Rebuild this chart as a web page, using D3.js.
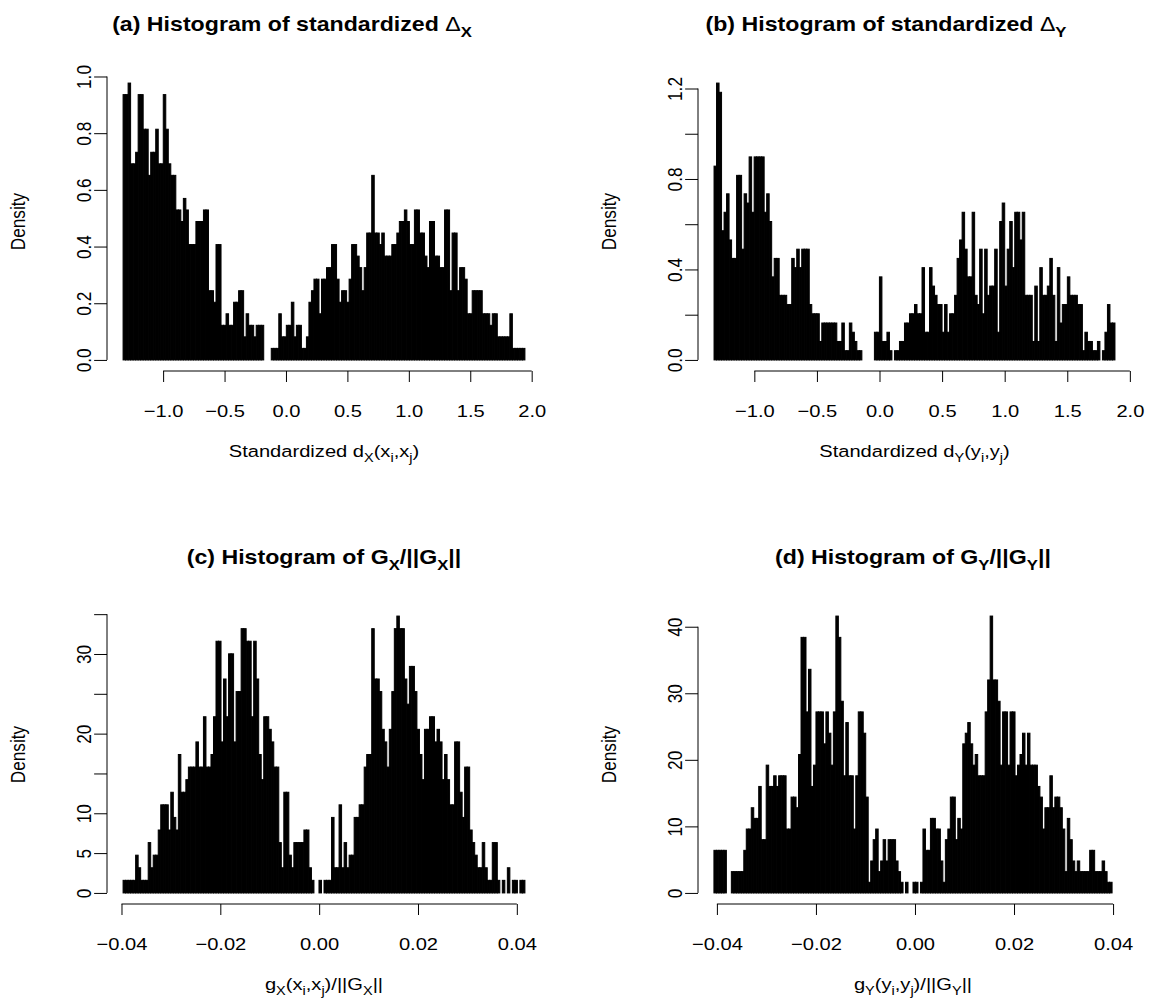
<!DOCTYPE html>
<html>
<head>
<meta charset="utf-8">
<script src="https://cdn.jsdelivr.net/npm/d3@7"></script>
<style>
  body { margin: 0; background: #fff; }
  svg text { font-family: "Liberation Sans", Arial, sans-serif; fill: #000; }
</style>
</head>
<body>
<script>
// Four R-style histograms (2 x 2). Values are bin counts,
// turned into densities with the count->density factor of each panel.

// (a) standardized Delta_X : 160 bins
const countsA = [23,23,24,17,17,18,23,23,20,20, 16,18,18,20,17,17,23,20,17,16,
  16,13,13,12,14,13,10,10,10,12, 12,12,13,13,6,6,5,10,10,3, 3,4,3,3,5,5,6,6,2,4,
  3,3,2,3,3,3,0,0,0,1, 1,1,4,2,2,3,3,5,2,3, 3,1,1,2,5,6,7,7,4,7,
  7,8,8,10,10,7,5,6,6,5, 7,10,10,9,8,6,8,11,11,16, 11,11,10,11,9,9,9,10,10,11,
  12,12,13,12,10,10,13,13,11,11, 9,8,12,12,9,9,8,8,13,13, 6,11,11,6,8,8,7,4,4,6,
  6,6,6,4,4,4,3,4,4,2, 2,2,2,2,4,1,1,1,1,1];
// (b) standardized Delta_Y
const countsB = [21,30,29,14,16,18,13,11,11,20, 20,12,18,17,22,16,22,22,22,22,
  16,18,15,9,11,11,7,7,7,6, 6,11,10,12,10,12,12,12,6,5, 5,5,2,4,4,4,4,4,4,2,
  2,4,1,1,4,3,2,1,1,0, 0,0,0,0,3,3,9,2,2,3, 1,0,1,1,2,2,4,4,5,5,
  6,5,5,10,3,3,10,8,7,6, 6,3,6,3,5,5,7,11,13,16, 12,9,9,16,7,6,12,5,12,7,
  8,8,12,3,15,17,8,12,15,10, 16,16,13,16,7,7,7,2,8,2, 10,7,7,8,11,7,2,10,4,6,
  6,9,7,7,7,6,6,1,3,2, 2,1,1,2,0,1,3,6,4,4];
// (c) G_X/||G_X||
const countsC = [1,1,1,1,1,3,2,1,1,1, 4,2,3,3,5,7,7,7,5,8, 6,5,11,8,8,9,10,10,10,12,
  10,10,14,10,10,11,14,20,20,12, 17,14,19,19,12,16,16,21,21,20, 20,14,20,17,11,9,14,14,13,12,
  10,10,4,2,8,8,3,2,4,4, 4,4,5,5,2,1,0,0,1,0, 1,1,1,6,2,2,7,2,4,2,
  3,3,6,6,7,7,10,11,11,21, 17,17,16,13,12,10,13,16,21,22, 21,21,17,15,18,18,16,13,11,9,
  13,13,14,14,12,13,12,9,11,9, 7,7,12,12,8,6,10,10,5,4, 3,2,2,4,2,1,1,4,4,1,
  0,1,0,2,0,1,1,0,1,1];
// (d) G_Y/||G_Y||
const countsD = [4,4,4,4,4,0,0,2,2,2, 2,2,4,6,6,8,7,7,10,5, 5,12,10,10,11,10,11,11,11,6,
  6,9,9,8,13,24,24,17,21,10, 12,17,17,17,14,17,15,12,17,26, 24,18,11,16,11,11,6,11,17,17,
  15,9,1,3,5,6,2,3,5,3, 5,5,5,3,2,1,0,1,0,0, 1,1,0,1,6,4,4,7,7,6,
  6,3,1,5,6,9,9,5,7,6, 14,15,16,14,12,13,11,11,11,17, 20,26,20,20,18,12,17,17,12,17,
  17,11,12,13,15,12,15,12,12,12, 10,9,6,8,8,11,8,9,9,8, 6,2,7,5,3,2,3,2,2,2,
  2,4,4,2,2,2,3,2,1,1];

// first and last break of each histogram
const breaksA = [-1.326, 1.945];
const breaksB = [-1.322, 1.881];
const breaksC = [-0.03968, 0.04164];
const breaksD = [-0.0406, 0.0398];

// density of one count (1 / (n * binwidth))
const perCountA = 0.0407;
const perCountB = 0.0408;
const perCountC = 1.58;
const perCountD = 1.60;

// ticks and their labels (R leaves out labels that would overlap)
const xTicksTop = [-1, -0.5, 0, 0.5, 1, 1.5, 2];
const xLabelsTop = ['\u22121.0', '\u22120.5', '0.0', '0.5', '1.0', '1.5', '2.0'];
const xTicksBottom = [-0.04, -0.02, 0, 0.02, 0.04];
const xLabelsBottom = ['\u22120.04', '\u22120.02', '0.00', '0.02', '0.04'];
const yTicksA = [0, 0.2, 0.4, 0.6, 0.8, 1.0];
const yLabelsA = ['0.0', '0.2', '0.4', '0.6', '0.8', '1.0'];
const yTicksB = [0, 0.2, 0.4, 0.6, 0.8, 1.0, 1.2];
const yLabelsB = ['0.0', '', '0.4', '', '0.8', '', '1.2'];
const yTicksC = [0, 5, 10, 15, 20, 25, 30, 35];
const yLabelsC = ['0', '5', '10', '', '20', '', '30', ''];
const yTicksD = [0, 10, 20, 30, 40];
const yLabelsD = ['0', '10', '20', '30', '40'];

// titles and axis titles, split where subscripts are
const titleA = [{t: '(a) Histogram of standardized '}, {t: '\u0394', plain: true}, {t: 'X', sub: true}];
const titleB = [{t: '(b) Histogram of standardized '}, {t: '\u0394', plain: true}, {t: 'Y', sub: true}];
const titleC = [{t: '(c) Histogram of G'}, {t: 'X', sub: true}, {t: '/||G'}, {t: 'X', sub: true}, {t: '||'}];
const titleD = [{t: '(d) Histogram of G'}, {t: 'Y', sub: true}, {t: '/||G'}, {t: 'Y', sub: true}, {t: '||'}];
const xlabA = [{t: 'Standardized d'}, {t: 'X', sub: true}, {t: '(x'}, {t: 'i', sub: true}, {t: ',x'}, {t: 'j', sub: true}, {t: ')'}];
const xlabB = [{t: 'Standardized d'}, {t: 'Y', sub: true}, {t: '(y'}, {t: 'i', sub: true}, {t: ',y'}, {t: 'j', sub: true}, {t: ')'}];
const xlabC = [{t: 'g'}, {t: 'X', sub: true}, {t: '(x'}, {t: 'i', sub: true}, {t: ',x'}, {t: 'j', sub: true}, {t: ')/||G'}, {t: 'X', sub: true}, {t: '||'}];
const xlabD = [{t: 'g'}, {t: 'Y', sub: true}, {t: '(y'}, {t: 'i', sub: true}, {t: ',y'}, {t: 'j', sub: true}, {t: ')/||G'}, {t: 'Y', sub: true}, {t: '||'}];

// page and text settings
const width = 1151, height = 1006;
const SX = 1.17;            // the reference picture is a little wider than tall, glyphs too
const axisFont = 17.2;
const titleFont = 19.8;
const tickLen = 11;

const panels = [
  {counts: countsA, breaks: breaksA, perCount: perCountA, box: {left: 107, right: 541, top: 72, bottom: 371},
   xTicks: xTicksTop, xLabels: xLabelsTop, yTicks: yTicksA, yLabels: yLabelsA,
   title: titleA, titleX: 292, xlab: xlabA},
  {counts: countsB, breaks: breaksB, perCount: perCountB, box: {left: 698, right: 1131, top: 72, bottom: 371},
   xTicks: xTicksTop, xLabels: xLabelsTop, yTicks: yTicksB, yLabels: yLabelsB,
   title: titleB, titleX: 886, xlab: xlabB},
  {counts: countsC, breaks: breaksC, perCount: perCountC, box: {left: 107, right: 541, top: 605, bottom: 904},
   xTicks: xTicksBottom, xLabels: xLabelsBottom, yTicks: yTicksC, yLabels: yLabelsC,
   title: titleC, titleX: 324, xlab: xlabC},
  {counts: countsD, breaks: breaksD, perCount: perCountD, box: {left: 698, right: 1128, top: 605, bottom: 904},
   xTicks: xTicksBottom, xLabels: xLabelsBottom, yTicks: yTicksD, yLabels: yLabelsD,
   title: titleD, titleX: 913, xlab: xlabD}
];

const svg = d3.select('body').append('svg')
    .attr('width', width)
    .attr('height', height);

// write text made of pieces, some of them subscripts
function richText(textSel, segs, size) {
  let down = false;
  segs.forEach(function(s) {
    const ts = textSel.append('tspan').text(s.t);
    if (s.sub) {
      ts.style('font-size', (size * 0.72) + 'px');
      if (!down) { ts.attr('dy', size * 0.28); down = true; }
    } else if (down) {
      ts.attr('dy', -size * 0.28);
      down = false;
    }
    if (s.plain) ts.style('font-weight', 'normal');
  });
}

// stretched text at (x, y), optionally turned to read upwards
function placeText(x, y, rotate) {
  return `translate(${x},${y}) scale(${SX},1)` + (rotate ? ' rotate(-90)' : '');
}

panels.forEach(function(p) {
  const b = p.box;
  const n = p.counts.length;
  const step = (p.breaks[1] - p.breaks[0]) / n;
  const bins = p.counts.map(function(c, i) {
    return {x0: p.breaks[0] + i * step, x1: p.breaks[0] + (i + 1) * step, density: c * p.perCount};
  });

  // R extends both ranges by 4 %
  const span = p.breaks[1] - p.breaks[0];
  const x = d3.scaleLinear()
      .domain([p.breaks[0] - 0.04 * span, p.breaks[1] + 0.04 * span])
      .range([b.left, b.right]);
  const ymax = d3.max(bins, d => d.density);
  const y = d3.scaleLinear()
      .domain([-0.04 * ymax, 1.04 * ymax])
      .range([b.bottom, b.top]);

  // bars, black with black border like hist(col = 'black')
  svg.append('g').selectAll('rect')
      .data(bins)
      .enter()
      .append('rect')
      .attr('x', d => x(d.x0))
      .attr('width', d => x(d.x1) - x(d.x0))
      .attr('y', d => y(d.density))
      .attr('height', d => y(0) - y(d.density))
      .style('fill', '#000')
      .style('stroke', '#000')
      .style('stroke-width', 1);

  // x axis: line only from first to last tick
  const gx = svg.append('g')
      .attr('transform', `translate(0,${b.bottom})`)
      .attr('font-family', null).attr('font-size', null)
      .call(d3.axisBottom(x).tickValues(p.xTicks)
        .tickFormat((d, i) => p.xLabels[i]).tickSize(tickLen).tickSizeOuter(0));
  gx.select('.domain').remove();
  gx.append('line')
      .attr('x1', x(p.xTicks[0])).attr('x2', x(p.xTicks[p.xTicks.length - 1]))
      .attr('stroke', '#000');
  gx.selectAll('.tick line').attr('stroke', '#000');
  gx.selectAll('.tick text')
      .attr('y', null).attr('dy', null)
      .attr('transform', placeText(0, 46, false))
      .style('font-size', axisFont + 'px');

  // y axis
  const gy = svg.append('g')
      .attr('transform', `translate(${b.left},0)`)
      .attr('font-family', null).attr('font-size', null)
      .call(d3.axisLeft(y).tickValues(p.yTicks)
        .tickFormat((d, i) => p.yLabels[i]).tickSize(tickLen * SX).tickSizeOuter(0));
  gy.select('.domain').remove();
  gy.append('line')
      .attr('y1', y(p.yTicks[0])).attr('y2', y(p.yTicks[p.yTicks.length - 1]))
      .attr('stroke', '#000');
  gy.selectAll('.tick line').attr('stroke', '#000');
  gy.selectAll('.tick text')
      .attr('x', null).attr('dy', null)
      .attr('text-anchor', 'middle')
      .attr('transform', placeText(-16, 0, true))
      .style('font-size', axisFont + 'px');

  // titles
  const tMain = svg.append('text')
      .attr('transform', placeText(p.titleX, b.top - 41, false))
      .attr('text-anchor', 'middle')
      .style('font-size', titleFont + 'px')
      .style('font-weight', 'bold');
  richText(tMain, p.title, titleFont);

  const tX = svg.append('text')
      .attr('transform', placeText((b.left + b.right) / 2, b.bottom + 86, false))
      .attr('text-anchor', 'middle')
      .style('font-size', axisFont + 'px');
  richText(tX, p.xlab, axisFont);

  svg.append('text')
      .attr('transform', placeText(b.left - 82, (b.top + b.bottom) / 2, true))
      .attr('text-anchor', 'middle')
      .style('font-size', axisFont + 'px')
      .text('Density');
});
</script>
</body>
</html>
